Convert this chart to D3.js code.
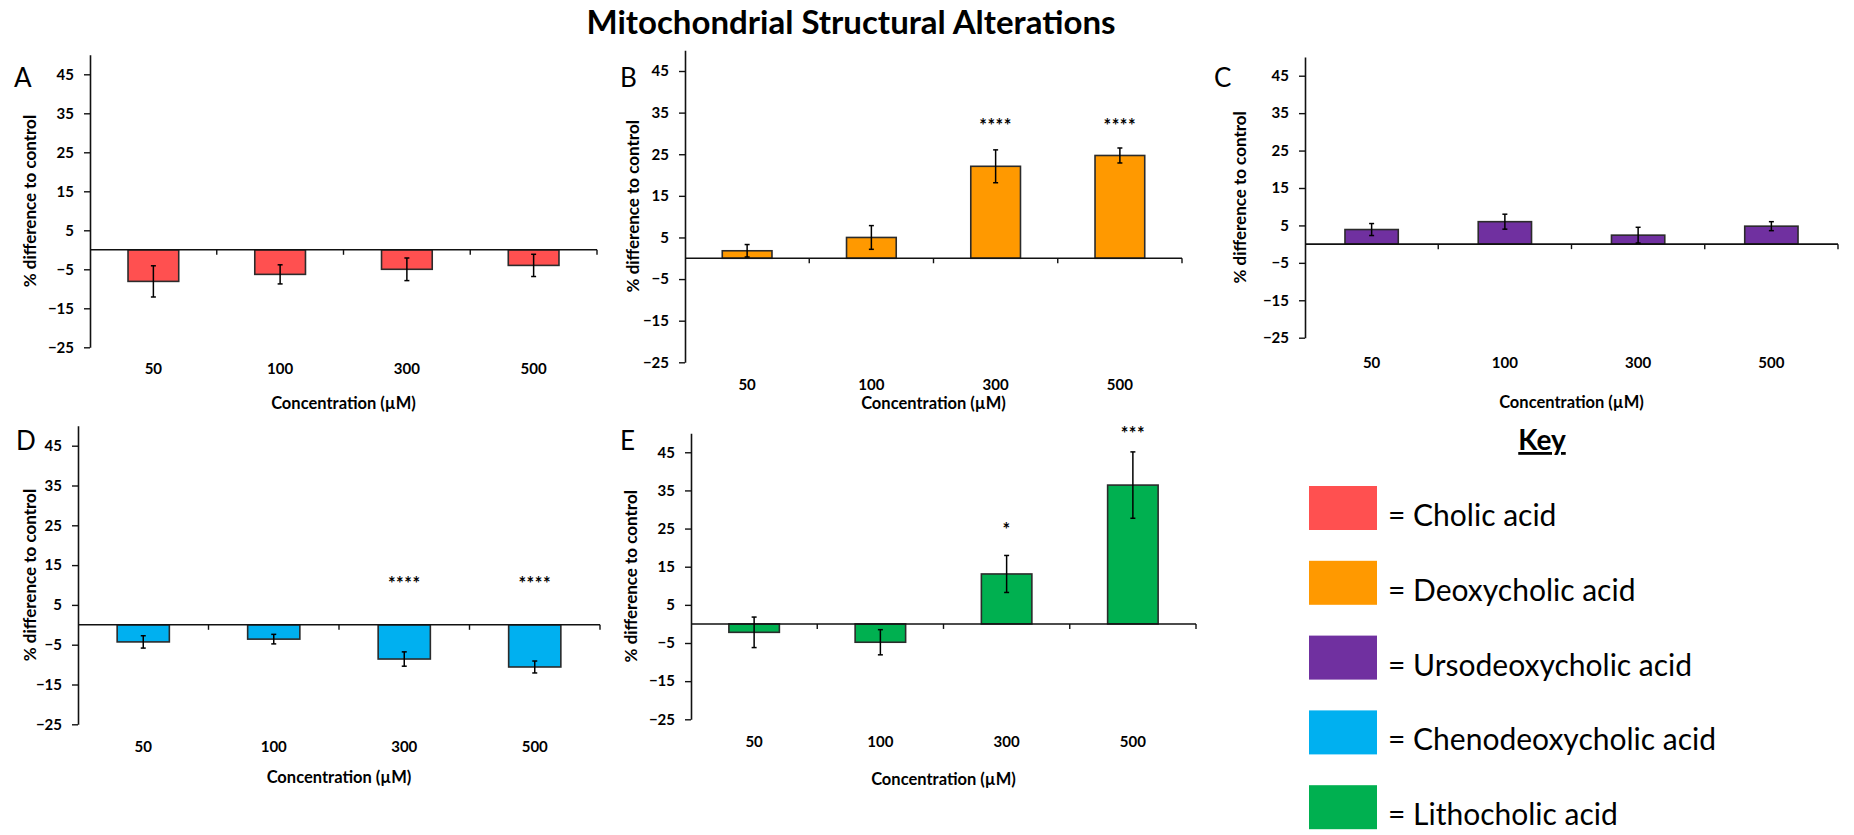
<!DOCTYPE html>
<html>
<head>
<meta charset="utf-8">
<script src="https://cdn.jsdelivr.net/npm/d3@7"></script>
<style>
  html, body { margin: 0; padding: 0; background: #fff; }
  svg { display: block; font-family: Lato, "Open Sans", "DejaVu Sans", sans-serif; }
</style>
</head>
<body>
<svg id="chart" width="1854" height="835"></svg>
<script>
// ---- data ----
const concentrations = ["50", "100", "300", "500"];
const yTicks = [-25, -15, -5, 5, 15, 25, 35, 45];
const acids = ["Cholic acid", "Deoxycholic acid", "Ursodeoxycholic acid", "Chenodeoxycholic acid", "Lithocholic acid"];
const acidColors = ["#FF5050", "#FF9900", "#7030A0", "#00B0F0", "#00B050"];

const cholicMean = [-8.1, -6.3, -5.0, -4.0];
const cholicErr  = [4.0, 2.45, 2.9, 2.85];
const cholicSig  = ["", "", "", ""];

const deoxyMean = [1.8, 5.0, 22.1, 24.7];
const deoxyErr  = [1.5, 2.85, 3.95, 1.8];
const deoxySig  = ["", "", "****", "****"];

const ursoMean = [3.9, 6.0, 2.4, 4.8];
const ursoErr  = [1.6, 2.0, 2.1, 1.2];
const ursoSig  = ["", "", "", ""];

const chenoMean = [-4.3, -3.6, -8.6, -10.6];
const chenoErr  = [1.55, 1.2, 1.8, 1.5];
const chenoSig  = ["", "", "****", "****"];

const lithoMean = [-2.2, -4.8, 13.1, 36.4];
const lithoErr  = [4.0, 3.3, 4.85, 8.7];
const lithoSig  = ["", "", "*", "***"];

// ---- layout of the five panels ----
const panels = [
  { letter: "A", acid: 0, mean: cholicMean, err: cholicErr, sig: cholicSig, sigAt: [0, 0, 0, 0],
    x0: 90, x1: 597, yTop: 54.8, yBot: 347.3, catY: 369, titleY: 403, yTitleX: 30,
    letterX: 14, letterY: 87 },
  { letter: "B", acid: 1, mean: deoxyMean, err: deoxyErr, sig: deoxySig, sigAt: [0, 0, 32.7, 32.7],
    x0: 685, x1: 1182, yTop: 50.2, yBot: 362.3, catY: 385, titleY: 403, yTitleX: 633,
    letterX: 620, letterY: 87 },
  { letter: "C", acid: 2, mean: ursoMean, err: ursoErr, sig: ursoSig, sigAt: [0, 0, 0, 0],
    x0: 1305, x1: 1838, yTop: 57, yBot: 337.7, catY: 363, titleY: 402, yTitleX: 1240,
    letterX: 1214, letterY: 87 },
  { letter: "D", acid: 3, mean: chenoMean, err: chenoErr, sig: chenoSig, sigAt: [0, 0, 11.2, 11.2],
    x0: 78, x1: 600, yTop: 425.8, yBot: 724.3, catY: 747, titleY: 777, yTitleX: 30,
    letterX: 16, letterY: 450 },
  { letter: "E", acid: 4, mean: lithoMean, err: lithoErr, sig: lithoSig, sigAt: [0, 0, 25.7, 50.8],
    x0: 691, x1: 1196, yTop: 433.2, yBot: 719.3, catY: 742, titleY: 779, yTitleX: 631,
    letterX: 620, letterY: 450 }
];

const svg = d3.select("#chart");

// figure title
svg.append("text")
  .attr("x", 851).attr("y", 34)
  .attr("text-anchor", "middle")
  .attr("font-size", 33).attr("font-weight", 700)
  .text("Mitochondrial Structural Alterations");

function drawPanel(p) {
  const g = svg.append("g");
  const color = acidColors[p.acid];

  const x = d3.scaleBand().domain(concentrations).range([p.x0, p.x1])
    .paddingInner(0.6).paddingOuter(0.3);
  const y = d3.scaleLinear().domain([-25, 50]).range([p.yBot, p.yTop]);
  const step = (p.x1 - p.x0) / concentrations.length;

  const rows = concentrations.map((c, i) => ({ c, v: p.mean[i], e: p.err[i], s: p.sig[i], sy: p.sigAt[i] }));

  // bars
  g.selectAll("rect.bar").data(rows).join("rect")
    .attr("class", "bar")
    .attr("x", d => x(d.c))
    .attr("width", x.bandwidth())
    .attr("y", d => y(Math.max(0, d.v)))
    .attr("height", d => Math.abs(y(d.v) - y(0)))
    .attr("fill", color)
    .attr("stroke", "#2b2b2b").attr("stroke-width", 1.6);

  // zero baseline with category separators
  g.append("line")
    .attr("x1", p.x0).attr("x2", p.x1)
    .attr("y1", y(0)).attr("y2", y(0))
    .attr("stroke", "#111").attr("stroke-width", 1.6);
  g.selectAll("line.sep").data(d3.range(1, concentrations.length + 1)).join("line")
    .attr("class", "sep")
    .attr("x1", i => p.x0 + i * step).attr("x2", i => p.x0 + i * step)
    .attr("y1", y(0)).attr("y2", y(0) + 5)
    .attr("stroke", "#111").attr("stroke-width", 1.4);

  // error bars
  const cx = d => x(d.c) + x.bandwidth() / 2;
  g.selectAll("line.err").data(rows).join("line")
    .attr("class", "err")
    .attr("x1", cx).attr("x2", cx)
    .attr("y1", d => y(d.v + d.e)).attr("y2", d => y(d.v - d.e))
    .attr("stroke", "#000").attr("stroke-width", 1.5);
  [1, -1].forEach(sgn => {
    g.selectAll("line.cap" + (sgn > 0 ? "u" : "d")).data(rows).join("line")
      .attr("class", "cap" + (sgn > 0 ? "u" : "d"))
      .attr("x1", d => cx(d) - 2.5).attr("x2", d => cx(d) + 2.5)
      .attr("y1", d => y(d.v + sgn * d.e)).attr("y2", d => y(d.v + sgn * d.e))
      .attr("stroke", "#000").attr("stroke-width", 1.5);
  });

  // significance stars
  g.selectAll("text.sig").data(rows.filter(d => d.s)).join("text")
    .attr("class", "sig")
    .attr("x", cx).attr("y", d => y(d.sy) + 10)
    .attr("text-anchor", "middle")
    .attr("font-size", 18).attr("font-weight", 700)
    .attr("letter-spacing", 0.5)
    .text(d => d.s);

  // y axis
  const ya = g.append("g")
    .attr("transform", `translate(${p.x0},0)`)
    .call(d3.axisLeft(y).tickValues(yTicks).tickSize(6).tickSizeOuter(0).tickPadding(10));
  ya.select(".domain").attr("stroke", "#111").attr("stroke-width", 1.6);
  ya.selectAll(".tick line").attr("stroke", "#111").attr("stroke-width", 1.4);
  ya.selectAll(".tick text")
    .attr("font-family", "Lato, sans-serif")
    .attr("font-size", 15).attr("font-weight", 700).attr("fill", "#000");

  // category labels
  const xa = g.append("g")
    .attr("transform", `translate(0,${p.catY})`)
    .call(d3.axisBottom(x).tickSize(0).tickPadding(0));
  xa.select(".domain").remove();
  xa.selectAll(".tick text")
    .attr("font-family", "Lato, sans-serif")
    .attr("dy", "0.35em")
    .attr("font-size", 15).attr("font-weight", 700).attr("fill", "#000");

  // axis titles
  g.append("text")
    .attr("x", (p.x0 + p.x1) / 2).attr("y", p.titleY)
    .attr("dy", "0.35em")
    .attr("text-anchor", "middle")
    .attr("font-size", 16.5).attr("font-weight", 700)
    .text("Concentration (\u00B5M)");
  g.append("text")
    .attr("transform", `translate(${p.yTitleX},${(p.yTop + p.yBot) / 2}) rotate(-90)`)
    .attr("dy", "0.35em")
    .attr("text-anchor", "middle")
    .attr("font-size", 17).attr("font-weight", 700)
    .text("% difference to control");

  // panel letter
  g.append("text")
    .attr("x", p.letterX).attr("y", p.letterY)
    .attr("font-size", 26).attr("font-weight", 400)
    .text(p.letter);
}

panels.forEach(drawPanel);

// ---- key ----
const key = svg.append("g");
key.append("text")
  .attr("x", 1542).attr("y", 450)
  .attr("text-anchor", "middle")
  .attr("font-size", 28).attr("font-weight", 700)
  .attr("text-decoration", "underline")
  .text("Key");

const keyRows = key.selectAll("g.row").data(acids).join("g")
  .attr("class", "row")
  .attr("transform", (d, i) => `translate(1309,${486 + i * 74.8})`);
keyRows.append("rect")
  .attr("width", 68).attr("height", 44)
  .attr("fill", (d, i) => acidColors[i]);
keyRows.append("text")
  .attr("x", 79).attr("y", 40)
  .attr("font-size", 30).attr("font-weight", 400)
  .text(d => "= " + d);
</script>
</body>
</html>
